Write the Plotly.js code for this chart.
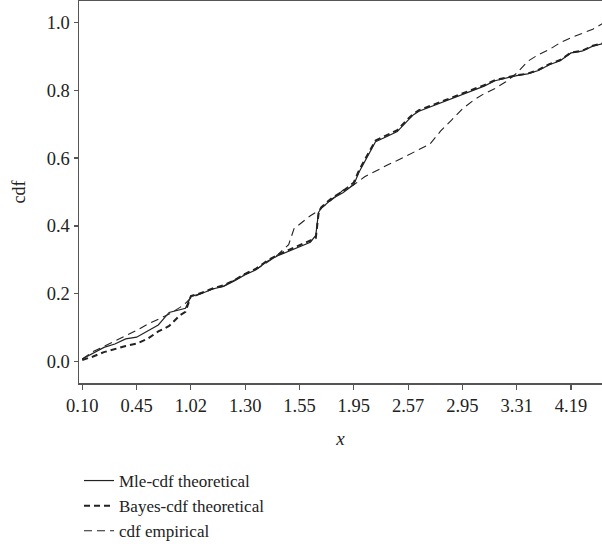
<!DOCTYPE html>
<html>
<head>
<meta charset="utf-8">
<script src="https://cdn.plot.ly/plotly-3.0.1.min.js"></script>
<style>
  html, body { margin: 0; padding: 0; background: #fff; }
  #chart { width: 602px; height: 549px; }
</style>
</head>
<body>
<div id="chart"></div>
<script>
// Observation index (sorted sample position)
const obsIndex = [1,3,5,7,9,11,13,15,17,19,20,21,23,25,27,29,31,33,35,37,39,40,41,42,43,44,44.5,45,47,49,51,52,53,54,55,57,59,61,62,63,65,67,69,71,73,75,77,79,81,83,85,87,89,91,93,95,97];

const mleCdf = [0.008,0.024,0.042,0.052,0.067,0.072,0.090,0.108,0.145,0.152,0.157,0.192,0.201,0.214,0.222,0.238,0.256,0.271,0.295,0.312,0.326,0.333,0.340,0.346,0.352,0.372,0.440,0.452,0.480,0.498,0.522,0.560,0.590,0.616,0.648,0.663,0.678,0.712,0.728,0.738,0.750,0.762,0.776,0.787,0.800,0.812,0.828,0.836,0.843,0.848,0.858,0.875,0.887,0.910,0.915,0.930,0.938];

const bayesCdf = [0.005,0.015,0.028,0.038,0.046,0.053,0.067,0.089,0.105,0.137,0.147,0.193,0.203,0.216,0.225,0.240,0.259,0.274,0.297,0.315,0.329,0.336,0.343,0.349,0.356,0.364,0.435,0.455,0.483,0.502,0.528,0.565,0.595,0.622,0.652,0.667,0.682,0.716,0.731,0.741,0.753,0.765,0.779,0.790,0.803,0.815,0.830,0.838,0.844,0.849,0.860,0.877,0.889,0.911,0.916,0.931,0.939];

const empiricalCdf = [0.008,0.030,0.045,0.060,0.075,0.092,0.110,0.125,0.140,0.160,0.172,0.188,0.201,0.214,0.222,0.240,0.258,0.272,0.292,0.315,0.345,0.392,0.405,0.418,0.430,0.440,0.446,0.452,0.478,0.505,0.521,0.533,0.545,0.553,0.562,0.578,0.593,0.608,0.617,0.625,0.641,0.680,0.712,0.745,0.770,0.790,0.805,0.825,0.850,0.885,0.905,0.920,0.940,0.955,0.967,0.980,0.998];

const tickPositions = [1,11,21,31,41,51,61,71,81,91];
const tickLabels = ["0.10","0.45","1.02","1.30","1.55","1.95","2.57","2.95","3.31","4.19"];

const FONT = "Liberation Serif, DejaVu Serif, serif";
const INK = "#222";
const AXIS = "#555";

const traces = [
  { x: obsIndex, y: mleCdf, name: "Mle-cdf theoretical", type: "scatter", mode: "lines",
    line: { color: INK, width: 1.2 } },
  { x: obsIndex, y: bayesCdf, name: "Bayes-cdf theoretical", type: "scatter", mode: "lines",
    line: { color: INK, width: 2, dash: "6px,4px" } },
  { x: obsIndex, y: empiricalCdf, name: "cdf empirical", type: "scatter", mode: "lines",
    line: { color: INK, width: 1.1, dash: "8px,5px" } }
];

const layout = {
  width: 602, height: 549,
  margin: { l: 79, r: 0, t: 1, b: 165 },
  paper_bgcolor: "#fff", plot_bgcolor: "#fff",
  font: { family: FONT, size: 17, color: INK },
  showlegend: true,
  legend: {
    x: 0.0, xanchor: "left", y: -0.21, yanchor: "top",
    orientation: "v", bgcolor: "rgba(0,0,0,0)",
    font: { family: FONT, size: 17, color: INK },
    tracegroupgap: 0
  },
  xaxis: {
    range: [0.4, 96.7],
    tickmode: "array", tickvals: tickPositions, ticktext: tickLabels,
    ticks: "outside", ticklen: 5, tickwidth: 1.2, tickcolor: AXIS,
    showline: true, linecolor: AXIS, linewidth: 1.5, mirror: true,
    showgrid: false, zeroline: false,
    tickfont: { family: FONT, size: 18.5, color: INK },
    title: { text: "<i>x</i>", font: { family: FONT, size: 19, color: INK }, standoff: 17 }
  },
  yaxis: {
    range: [-0.063, 1.063],
    tickmode: "array", tickvals: [0, 0.2, 0.4, 0.6, 0.8, 1.0],
    ticktext: ["0.0","0.2","0.4","0.6","0.8","1.0"],
    ticks: "outside", ticklen: 4, tickwidth: 1.2, tickcolor: AXIS,
    showline: true, linecolor: AXIS, linewidth: 1.5,
    showgrid: false, zeroline: false,
    tickfont: { family: FONT, size: 18.5, color: INK },
    title: { text: "cdf", font: { family: FONT, size: 18, color: INK }, standoff: 16 }
  }
};

Plotly.newPlot("chart", traces, layout, { displayModeBar: false, staticPlot: true });
</script>
</body>
</html>
